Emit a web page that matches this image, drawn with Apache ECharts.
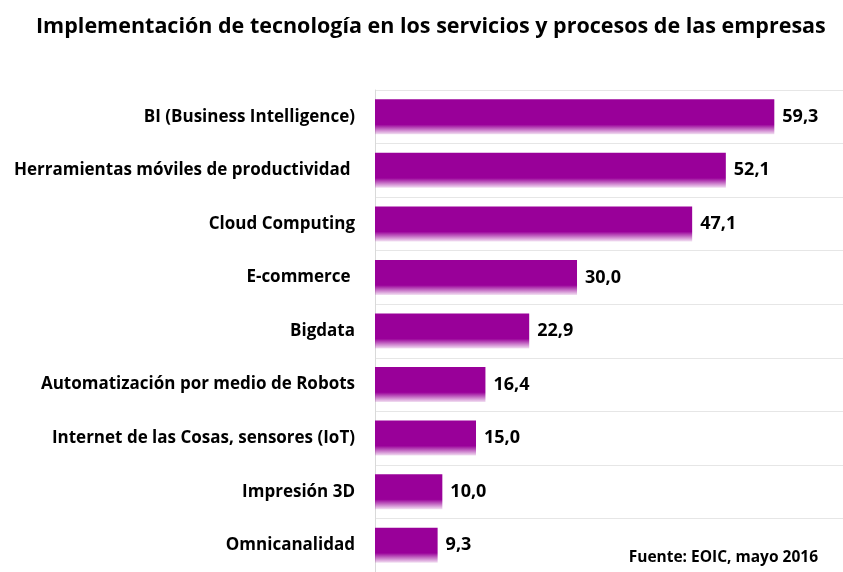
<!DOCTYPE html>
<html>
<head>
<meta charset="utf-8">
<script src="https://cdn.jsdelivr.net/npm/echarts@6/dist/echarts.min.js"></script>
<style>
  html, body { margin: 0; padding: 0; background: #fff; }
  #chart { width: 843px; height: 572px; }
</style>
</head>
<body>
<div id="chart"></div>
<script>
// categories from top to bottom
const categories = [
  'BI (Business Intelligence)',
  'Herramientas móviles de productividad ',
  'Cloud Computing',
  'E-commerce ',
  'Bigdata',
  'Automatización por medio de Robots',
  'Internet de las Cosas, sensores (IoT)',
  'Impresión 3D',
  'Omnicanalidad'
];
const values = [59.3, 52.1, 47.1, 30.0, 22.9, 16.4, 15.0, 10.0, 9.3];

let myChart = echarts.init(document.getElementById('chart'));
myChart.setOption({
  animation: false,
  title: {
    text: 'Implementación de tecnología en los servicios y procesos de las empresas',
    left: 31,
    top: 11,
    textStyle: { fontFamily: 'Open Sans', fontWeight: 'bold', fontSize: 21.5, color: '#000' }
  },
  graphic: [{
    type: 'text',
    right: 25,
    top: 550,
    style: { text: 'Fuente: EOIC, mayo 2016', font: 'bold 15.5px "Open Sans"', fill: '#000' }
  }],
  grid: { left: 375, right: 0, top: 90, bottom: -4 },
  xAxis: {
    type: 'value',
    min: 0,
    max: 69.5,
    show: false
  },
  yAxis: {
    type: 'category',
    inverse: true,
    data: categories,
    axisLine: { show: true, lineStyle: { color: '#d9d9d9' } },
    axisTick: { show: false },
    splitLine: { show: true, lineStyle: { color: '#e6e6e6' } },
    axisLabel: {
      margin: 20,
      padding: [4, 0, 0, 0],
      fontFamily: 'Open Sans',
      fontWeight: 'bold',
      fontSize: 17,
      color: '#000'
    }
  },
  series: [{
    type: 'bar',
    data: values,
    barWidth: 35,
    itemStyle: {
      color: new echarts.graphic.LinearGradient(0, 0, 0, 1, [
        { offset: 0, color: '#990099' },
        { offset: 0.72, color: '#990099' },
        { offset: 1, color: 'rgba(153,0,153,0.12)' }
      ])
    },
    label: {
      show: true,
      position: 'right',
      distance: 8,
      padding: [4, 0, 0, 0],
      fontFamily: 'Open Sans',
      fontWeight: 'bold',
      fontSize: 18,
      color: '#000',
      formatter: p => p.value.toFixed(1).replace('.', ',')
    }
  }]
});
</script>
</body>
</html>
